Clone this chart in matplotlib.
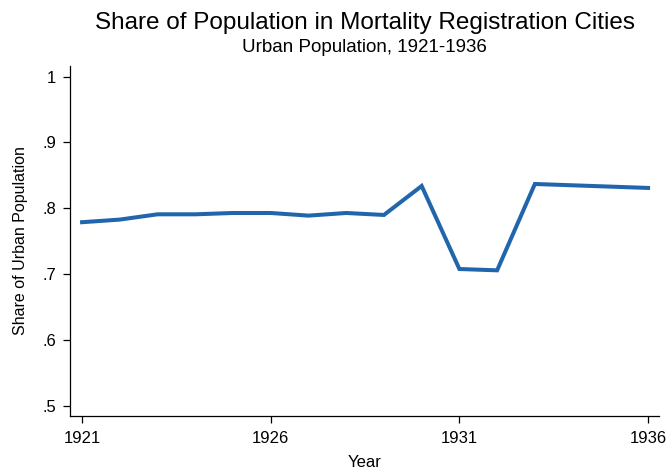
import matplotlib
matplotlib.use("Agg")
import matplotlib.pyplot as plt

years = [1921, 1922, 1923, 1924, 1925, 1926, 1927, 1928, 1929, 1930,
         1931, 1932, 1933, 1934, 1935, 1936]
share = [0.779, 0.783, 0.791, 0.791, 0.793, 0.793, 0.789, 0.793, 0.790, 0.834,
         0.708, 0.706, 0.837, 0.835, 0.833, 0.831]
xticks = [1921, 1926, 1931, 1936]
yticks = [0.5, 0.6, 0.7, 0.8, 0.9, 1.0]
ytick_labels = [".5", ".6", ".7", ".8", ".9", "1"]

plt.rcParams['font.family'] = ['Liberation Sans', 'DejaVu Sans']

W, H = 667, 470
fig = plt.figure(figsize=(W / 100, H / 100), dpi=100)
left, right, top, bottom = 70, 659, 66, 416
ax = fig.add_axes([left / W, 1 - bottom / H, (right - left) / W, (bottom - top) / H])

ax.plot(years, share, color='#2166ac', linewidth=2.9, solid_joinstyle='miter')

ax.set_xlim(1920.68, 1936.29)
ax.set_ylim(0.485, 1.016)
ax.set_xticks(xticks)
ax.set_xticklabels([str(t) for t in xticks])
ax.set_yticks(yticks)
ax.set_yticklabels(ytick_labels)

for s in ['top', 'right']:
    ax.spines[s].set_visible(False)
for s in ['left', 'bottom']:
    ax.spines[s].set_linewidth(0.9)
ax.tick_params(axis='both', direction='out', length=5, width=0.9, labelsize=12)
ax.tick_params(axis='x', pad=6)
ax.tick_params(axis='y', pad=5)

ax.set_xlabel('Year', fontsize=12, labelpad=6)
ax.set_ylabel('Share of Urban Population', fontsize=11.5, labelpad=10)

fig.text((left + right) / 2 / W, 1 - 23 / H, 'Share of Population in Mortality Registration Cities',
         ha='center', va='center', fontsize=17.5)
fig.text((left + right) / 2 / W, 1 - 48 / H, 'Urban Population, 1921-1936',
         ha='center', va='center', fontsize=13.5)

fig.savefig('out.png', dpi=100)
